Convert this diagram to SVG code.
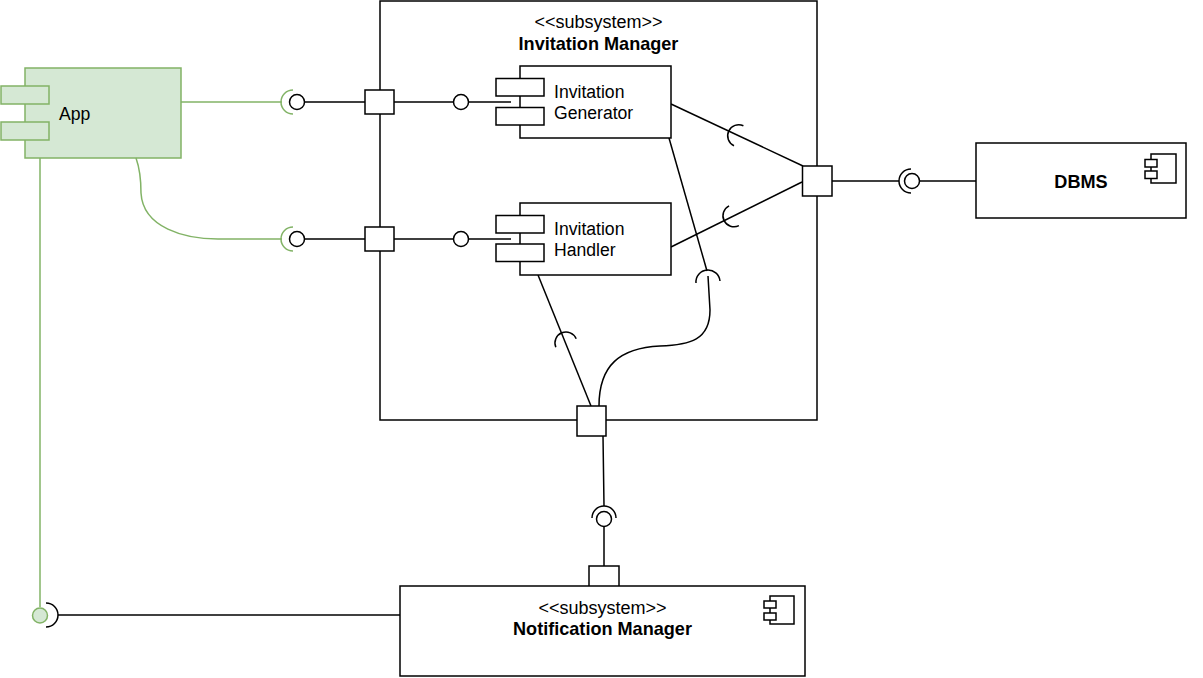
<svg xmlns="http://www.w3.org/2000/svg" width="1203" height="678" viewBox="0 0 1203 678">
<style>
.n{fill:#fff;stroke:#000;stroke-width:1.5}
.gn{fill:#d5e8d4;stroke:#82b366;stroke-width:1.5}
.e{fill:none;stroke:#000;stroke-width:1.5}
.g{fill:none;stroke:#82b366;stroke-width:1.5}
.t{font-family:"Liberation Sans",Arial,sans-serif;font-size:17.6px;fill:#000}
.b{font-weight:bold;font-size:18.1px}
.s{font-size:18px}
.m{text-anchor:middle}
</style>
<rect width="1203" height="678" fill="#fff"/>
<g id="invitation-manager">
<rect class="n" x="380" y="1" width="437" height="419"/>
<text class="t m s" x="598.5" y="28">&lt;&lt;subsystem&gt;&gt;</text>
<text class="t m b" x="598.5" y="49.5">Invitation Manager</text>
</g>
<g id="notification-manager">
<rect class="n" x="589" y="566" width="30" height="30"/>
<rect class="n" x="400" y="586" width="405" height="90"/>
<rect class="n" x="770" y="596" width="24" height="28"/>
<rect class="n" x="764" y="601" width="12" height="7"/>
<rect class="n" x="764" y="613" width="12" height="7"/>
<text class="t m s" x="602.5" y="613.5">&lt;&lt;subsystem&gt;&gt;</text>
<text class="t m b" x="602.5" y="635">Notification Manager</text>
</g>
<g id="dbms">
<rect class="n" x="976" y="143" width="210" height="75"/>
<rect class="n" x="1151" y="154" width="25" height="29"/>
<rect class="n" x="1145" y="159.5" width="12" height="7.5"/>
<rect class="n" x="1145" y="171" width="12" height="7.5"/>
<text class="t m b" x="1081" y="187.5">DBMS</text>
</g>
<g id="app">
<rect class="gn" x="25" y="68" width="156" height="90"/>
<rect class="gn" x="1" y="86" width="48" height="18"/>
<rect class="gn" x="1" y="122" width="48" height="18"/>
<text class="t" x="59" y="120">App</text>
</g>
<g id="connectors">
<path class="g" d="M181 102 L282 102"/>
<path class="g" d="M136 158 Q141 172 141 193 C143 228 185 239 218 239 L282 239"/>
<path class="g" d="M40 158 L40 607"/>
<path class="g" d="M293 90 A12 12 0 0 0 293 114"/>
<path class="g" d="M293 227 A12 12 0 0 0 293 251"/>
<circle cx="40" cy="615.5" r="7.5" class="gn"/>
<path class="e" d="M46 603 A12 12 0 0 1 46 627"/>
<path class="e" d="M58 615 L400 615"/>
<circle class="n" cx="297" cy="102" r="7.5"/>
<circle class="n" cx="297" cy="239" r="7.5"/>
<path class="e" d="M304.5 102 L365 102 M394 102 L453.5 102 M468.5 102 L511 102"/>
<path class="e" d="M304.5 239 L365 239 M394 239 L453.5 239 M468.5 239 L511 239"/>
<circle class="n" cx="461" cy="102" r="7.5"/>
<circle class="n" cx="461" cy="239" r="7.5"/>
<path class="e" d="M671 104 L803 166"/>
<path class="e" d="M743.4 125.8 A11 11 0 0 0 734 145.8"/>
<path class="e" d="M671 247 L802 182"/>
<path class="e" d="M729.1 205.8 A11 11 0 0 0 738.9 225.6"/>
<path class="e" d="M669 138 L707 271"/>
<path class="e" d="M696 283 A12 12 0 0 1 720 281"/>
<path class="e" d="M708 276 L710 310 C710 340 690 345 660 346 C620 348 599 365 599 406"/>
<path class="e" d="M538 275 L591 406"/>
<path class="e" d="M555.8 347.2 A11 11 0 0 1 576.2 338.8"/>
<path class="e" d="M832 181 L899 181 M919.5 181 L976 181"/>
<path class="e" d="M911 169 A12 12 0 0 0 911 193"/>
<circle class="n" cx="912" cy="181" r="7.5"/>
<path class="e" d="M603 436 L604 506 M604 526.5 L604 566"/>
<path class="e" d="M592 518 A12 12 0 0 1 616 518"/>
<circle class="n" cx="604" cy="519" r="7.5"/>
</g>
<g id="ports">
<rect class="n" x="365" y="90" width="29" height="24"/>
<rect class="n" x="365" y="227" width="29" height="24"/>
<rect class="n" x="802.5" y="166" width="29.5" height="30"/>
<rect class="n" x="577" y="406" width="29" height="30"/>
</g>
<g id="invitation-generator">
<rect class="n" x="520" y="66" width="151" height="72"/>
<rect class="n" x="496" y="78.5" width="48" height="17.5"/>
<rect class="n" x="496" y="107.5" width="48" height="17.5"/>
<text class="t" x="554" y="98">Invitation</text>
<text class="t" x="554" y="119">Generator</text>
</g>
<g id="invitation-handler">
<rect class="n" x="520" y="203" width="151" height="72"/>
<rect class="n" x="496" y="215.5" width="48" height="17.5"/>
<rect class="n" x="496" y="244" width="48" height="17.5"/>
<text class="t" x="554" y="235">Invitation</text>
<text class="t" x="554" y="256">Handler</text>
</g>
</svg>
